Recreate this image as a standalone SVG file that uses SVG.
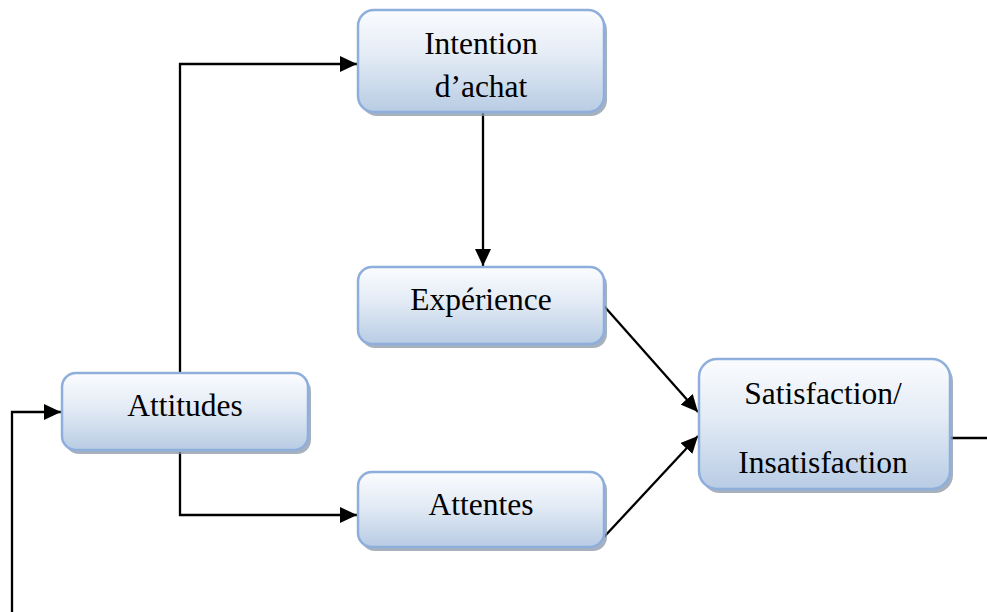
<svg xmlns="http://www.w3.org/2000/svg" width="987" height="612" viewBox="0 0 987 612">
  <style>
    .box { fill: url(#boxFill); stroke: #8eaedb; stroke-width: 2.5; }
    .shadow { fill: #8a97a8; opacity: 0.75; }
    .label { font-family: "Liberation Serif", "Times New Roman", serif; font-size: 31.5px; fill: #000; text-anchor: middle; }
    .link { fill: none; stroke: #000; stroke-width: 2.3; }
  </style>
  <defs>
    <linearGradient id="boxFill" x1="0" y1="0" x2="0" y2="1">
      <stop offset="0" stop-color="#fbfcfe"/>
      <stop offset="0.45" stop-color="#e3ebf5"/>
      <stop offset="1" stop-color="#b8cce4"/>
    </linearGradient>
    <marker id="arrow" markerWidth="17" markerHeight="16" refX="17" refY="8" orient="auto" markerUnits="userSpaceOnUse">
      <path d="M0,0 L17,8 L0,16 Z" fill="#000"/>
    </marker>
  </defs>

  <!-- connectors -->
  <g id="connectors">
    <path class="link" d="M12,612 V412 H61" marker-end="url(#arrow)"/>
    <path class="link" d="M180,373 V64 H357" marker-end="url(#arrow)"/>
    <path class="link" d="M180,452 V515 H357" marker-end="url(#arrow)"/>
    <path class="link" d="M483,113 V266" marker-end="url(#arrow)"/>
    <path class="link" d="M604,306 L698,412" marker-end="url(#arrow)"/>
    <path class="link" d="M604,537 L698,436" marker-end="url(#arrow)"/>
    <path class="link" d="M951,438 H987"/>
  </g>

  <!-- nodes -->
  <g id="intention">
    <rect class="shadow" x="361" y="14" width="246" height="102" rx="16"/>
    <rect class="box" x="358" y="10" width="246" height="102" rx="16"/>
    <text class="label" x="481" y="54">Intention</text>
    <text class="label" x="481" y="97">d’achat</text>
  </g>

  <g id="experience">
    <rect class="shadow" x="361" y="271" width="246" height="77" rx="14"/>
    <rect class="box" x="358" y="267" width="246" height="77" rx="14"/>
    <text class="label" x="481" y="310">Expérience</text>
  </g>

  <g id="attitudes">
    <rect class="shadow" x="65" y="377" width="246" height="77" rx="14"/>
    <rect class="box" x="62" y="373" width="246" height="77" rx="14"/>
    <text class="label" x="185" y="416">Attitudes</text>
  </g>

  <g id="attentes">
    <rect class="shadow" x="361" y="476" width="246" height="75" rx="14"/>
    <rect class="box" x="358" y="472" width="246" height="75" rx="14"/>
    <text class="label" x="481" y="515">Attentes</text>
  </g>

  <g id="satisfaction">
    <rect class="shadow" x="702" y="363" width="251" height="130" rx="18"/>
    <rect class="box" x="699" y="359" width="251" height="130" rx="18"/>
    <text class="label" x="823" y="404">Satisfaction/</text>
    <text class="label" x="823" y="473">Insatisfaction</text>
  </g>
</svg>
